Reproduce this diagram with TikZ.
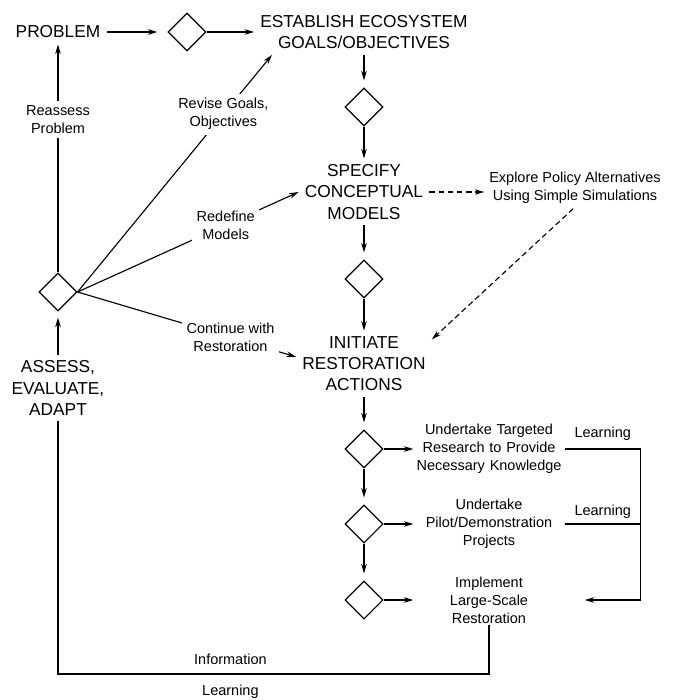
\documentclass[tikz,border=0pt]{standalone}
\usepackage{fontspec}
\setmainfont{Liberation Sans}
\usepackage{tikz}
\usetikzlibrary{shapes.geometric, arrows.meta, calc, positioning}
\tikzstyle{stage} = [align=center, inner sep=1.5mm, font=\fontsize{12.3}{15}\selectfont]
\tikzstyle{task} = [align=center, text width=3.7cm, inner sep=1pt, font=\fontsize{10.3}{12.8}\selectfont]
\tikzstyle{note} = [align=center, font=\fontsize{10.3}{12.8}\selectfont]
\tikzstyle{choice} = [note, fill=white]
\tikzstyle{decision} = [diamond, draw=black, line width=0.8pt, minimum width=9.5mm, minimum height=9.5mm, inner sep=0pt]
\tikzstyle{support} = [coordinate]
\tikzstyle{line} = [line width=0.8pt]
\tikzstyle{arrow} = [line, ->, >={Stealth[length=2.4mm, width=1.4mm]}]
\tikzstyle{arrowin} = [arrow, shorten >=1.75mm]
\tikzstyle{dashes} = [dash pattern=on 4pt off 2.5pt]

\begin{document}
\begin{tikzpicture}[x=0.25mm, y=-0.25mm, on grid]
		\useasboundingbox (0,0) rectangle (675,700);
		
		\node (Problem) [stage] at (58,32) {PROBLEM};
		\node (Decision1) [decision, right = 32.25mm of Problem] {};
		\node (Establish) [stage, right = 44.25mm of Decision1] {ESTABLISH ECOSYSTEM\\GOALS/OBJECTIVES};
		\node (Decision2) [decision, below = 18.75mm of Establish] {};
		\node (Specify) [stage, below = 21.25mm of Decision2] {SPECIFY\\CONCEPTUAL\\MODELS};
		\node (Decision3) [decision, below = 21.75mm of Specify] {};
		\node (Initiate) [stage, below = 21.25mm of Decision3] {INITIATE\\RESTORATION\\ACTIONS};
		\node (Decision4) [decision, below = 21.25mm of Initiate] {};
		\node (Decision5) [decision, below = 18.75mm of Decision4] {};
		\node (Decision6) [decision, below = 19mm of Decision5] {};
		
		\node (Decision7) [decision, below = 65mm of Problem] {};
		\node (Assess) [stage, below = 24mm of Decision7] {ASSESS,\\EVALUATE,\\ADAPT};
		
		\node (Explore) [note, above right = 1mm and 52.75mm of Specify] {Explore Policy Alternatives\\Using Simple Simulations};
		\node (Research) [task, right = 31.25mm of Decision4] {Undertake Targeted\\Research to Provide\\Necessary Knowledge};
		\node (Pilot) [task, right = 31.25mm of Decision5] {Undertake\\Pilot/Demonstration\\Projects};
		\node (Implement) [task, right = 31.25mm of Decision6] {Implement\\Large-Scale\\Restoration};
		\node (LearningTop) [support, right = 19mm of Research.east] {};
		\node (InfoCorner) [support, below = 18.5mm of Implement] {};
		
		% main line
		\draw [arrow, shorten >=2.5mm] (Problem) -- (Decision1);
		\draw [arrow] (Decision1) -- (Establish);
		\draw [arrowin] (Establish) -- (Decision2);
		\draw [arrow] (Decision2) -- (Specify);
		\draw [arrowin] (Specify) -- (Decision3);
		\draw [arrow] (Decision3) -- (Initiate);
		\draw [arrowin] (Initiate) -- (Decision4);
		\draw [arrowin] (Decision4) -- (Decision5);
		\draw [arrowin] (Decision5) -- (Decision6);
		\draw [arrow] (Decision4) -- (Research);
		\draw [arrow] (Decision5) -- (Pilot);
		\draw [arrow] (Decision6) -- (Implement);
		
		\draw [arrow, dashes] (Specify.east) -- (Specify.east -| Explore.west);
		\draw [arrow, dashes] (Explore.265) -- (Initiate.20);
		
		% feedback from assessment
		\draw [arrowin, shorten >=1.5mm] (Assess) -- (Decision7);
		\draw [arrow] (Decision7) -- node[choice, pos=0.67]{Reassess\\Problem} (Problem);
		\draw [arrow] (Decision7.east) -- node[choice, pos=0.75]{Revise Goals,\\Objectives} (Establish.194);
		\draw [arrow] (Decision7.east) -- node[choice, pos=0.67]{Redefine\\Models} (Specify.west);
		\draw [arrow] (Decision7.east) -- node[choice, pos=0.7]{Continue with\\Restoration} (Initiate.174);
		
		% learning loops
		\draw [line] (Research.east) -- node[note, above=0.7mm]{Learning} (LearningTop);
		\draw [line] (Pilot.east) -- node[note, above]{Learning} (LearningTop |- Pilot.east);
		\draw [arrow, shorten >=5mm] (LearningTop) |- (Implement.east);
		\draw [line] (Implement.south) -- (InfoCorner) -| node[note, pos=0.3, above=1mm]{Information} node[note, pos=0.3, below=1.5mm]{Learning} (Assess.south);
\end{tikzpicture}
\end{document}
